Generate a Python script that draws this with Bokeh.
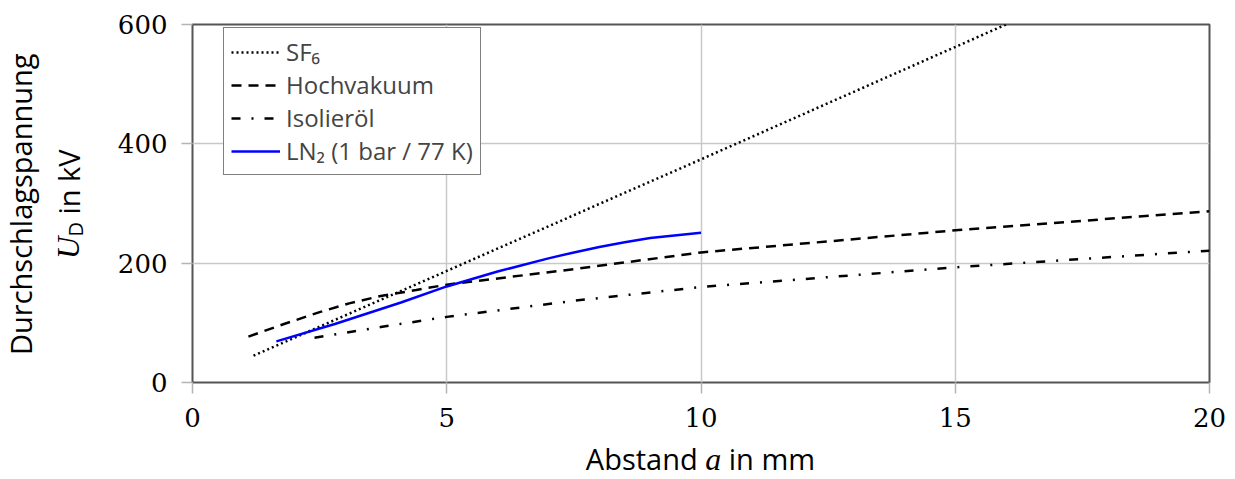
from bokeh.plotting import figure
from bokeh.models import Range1d, Legend, LegendItem, FixedTicker, Div
from bokeh.layouts import row, column
from bokeh.embed import file_html
from bokeh.resources import INLINE

# ---- data ----
sf6_x = [1.2, 5.0, 10.0, 16.0]
sf6_y = [45, 187, 374, 600]

hv_x = [1.1, 1.8, 2.5, 3.1, 3.7, 4.4, 5.0, 7.5, 10.0, 15.0, 20.0]
hv_y = [77, 98, 118, 133, 145, 155, 164, 190, 218, 255, 287]

oil_x = [2.4, 3.7, 5.0, 7.5, 10.0, 15.0, 20.0]
oil_y = [75, 93, 110, 137, 160, 193, 221]

ln2_x = [1.65, 2.8, 4.1, 5.0, 6.0, 7.0, 7.5, 8.0, 8.5, 9.0, 10.0]
ln2_y = [69, 98, 134, 161, 186, 208, 218, 227, 235, 242, 251]

x_ticks = [0, 5, 10, 15, 20]
y_ticks = [0, 200, 400, 600]

legend_labels = ["SF\u2086", "Hochvakuum", "Isolier\u00f6l", "LN\u2082 (1 bar / 77 K)"]

SANS = "Open Sans"
SERIF = "DejaVu Serif"

YLAB_W = 90
P_W = 1142
P_H = 449
XLAB_H = 29

p = figure(width=P_W, height=P_H, output_backend="svg", toolbar_location=None,
           x_range=Range1d(0, 20), y_range=Range1d(0, 600),
           min_border_left=192 - YLAB_W, min_border_right=YLAB_W + P_W - 1209,
           min_border_top=24, min_border_bottom=P_H - 382)

p.outline_line_color = "#555555"
p.outline_line_width = 2
p.background_fill_color = "white"
p.border_fill_color = "white"

for ax in (p.xaxis[0], p.yaxis[0]):
    ax.axis_line_color = None
    ax.major_tick_line_color = "#b4b4b4"
    ax.major_tick_line_width = 1.5
    ax.major_tick_out = 11
    ax.major_tick_in = 0
    ax.minor_tick_line_color = None
    ax.major_label_text_font = SERIF
    ax.major_label_text_font_size = "26px"
    ax.major_label_text_color = "black"
    ax.major_label_standoff = 14
p.xaxis.ticker = FixedTicker(ticks=x_ticks)
p.yaxis.ticker = FixedTicker(ticks=y_ticks)

p.grid.grid_line_color = "#c8c8c8"
p.grid.grid_line_width = 1.5
p.xgrid.ticker = FixedTicker(ticks=x_ticks)
p.ygrid.ticker = FixedTicker(ticks=y_ticks)

r_sf6 = p.line(sf6_x, sf6_y, line_color="black", line_width=2.5, line_dash="2 3")
r_hv = p.line(hv_x, hv_y, line_color="black", line_width=2.5, line_dash="10 7")
r_oil = p.line(oil_x, oil_y, line_color="black", line_width=2.5, line_dash="9 11 2 11")
r_ln2 = p.line(ln2_x, ln2_y, line_color="#0000ff", line_width=2.5, line_join="round")

legend = Legend(items=[LegendItem(label=lab, renderers=[r]) for lab, r in
                       zip(legend_labels, [r_sf6, r_hv, r_oil, r_ln2])],
                location=(31, 207), orientation="vertical",
                label_text_font=SANS, label_text_font_size="24px",
                glyph_width=49, glyph_height=20, label_standoff=6,
                spacing=0, padding=7, margin=0,
                border_line_color="black", border_line_width=1.2,
                background_fill_color="white", background_fill_alpha=1)
p.add_layout(legend, "center")

ylab_html = (
    '<div style="position:relative; left:-3px; width:%dpx; height:408px; '
    'writing-mode:vertical-rl; transform:rotate(180deg); text-align:center; '
    "font-family:'Open Sans'; font-size:29px; line-height:48px; color:black; white-space:nowrap;\">"
    'Durchschlagspannung<br>'
    "<i style=\"font-family:'Liberation Serif'; font-size:31px;\">U</i>"
    '<sub style="font-size:20px; line-height:0;">D</sub> in kV</div>' % YLAB_W
)
ylab = Div(text=ylab_html, width=YLAB_W, height=P_H, margin=0)

xlab_html = (
    '<div style="box-sizing:border-box; position:relative; top:-4px; width:%dpx; height:%dpx; '
    'padding-left:%dpx; text-align:center; '
    "font-family:'Open Sans'; font-size:29px; line-height:27px; "
    'color:black; white-space:nowrap;">'
    "Abstand <i style=\"font-family:'Liberation Serif'; font-size:32px;\">a</i> in mm</div>"
    % (YLAB_W + P_W, XLAB_H, int(2 * 700.5 - (YLAB_W + P_W)))
)
xlab = Div(text=xlab_html, width=YLAB_W + P_W, height=XLAB_H, margin=0)

layout = column(row(ylab, p, spacing=0), xlab, spacing=0)

open("out.html", "w").write(file_html(layout, INLINE))
